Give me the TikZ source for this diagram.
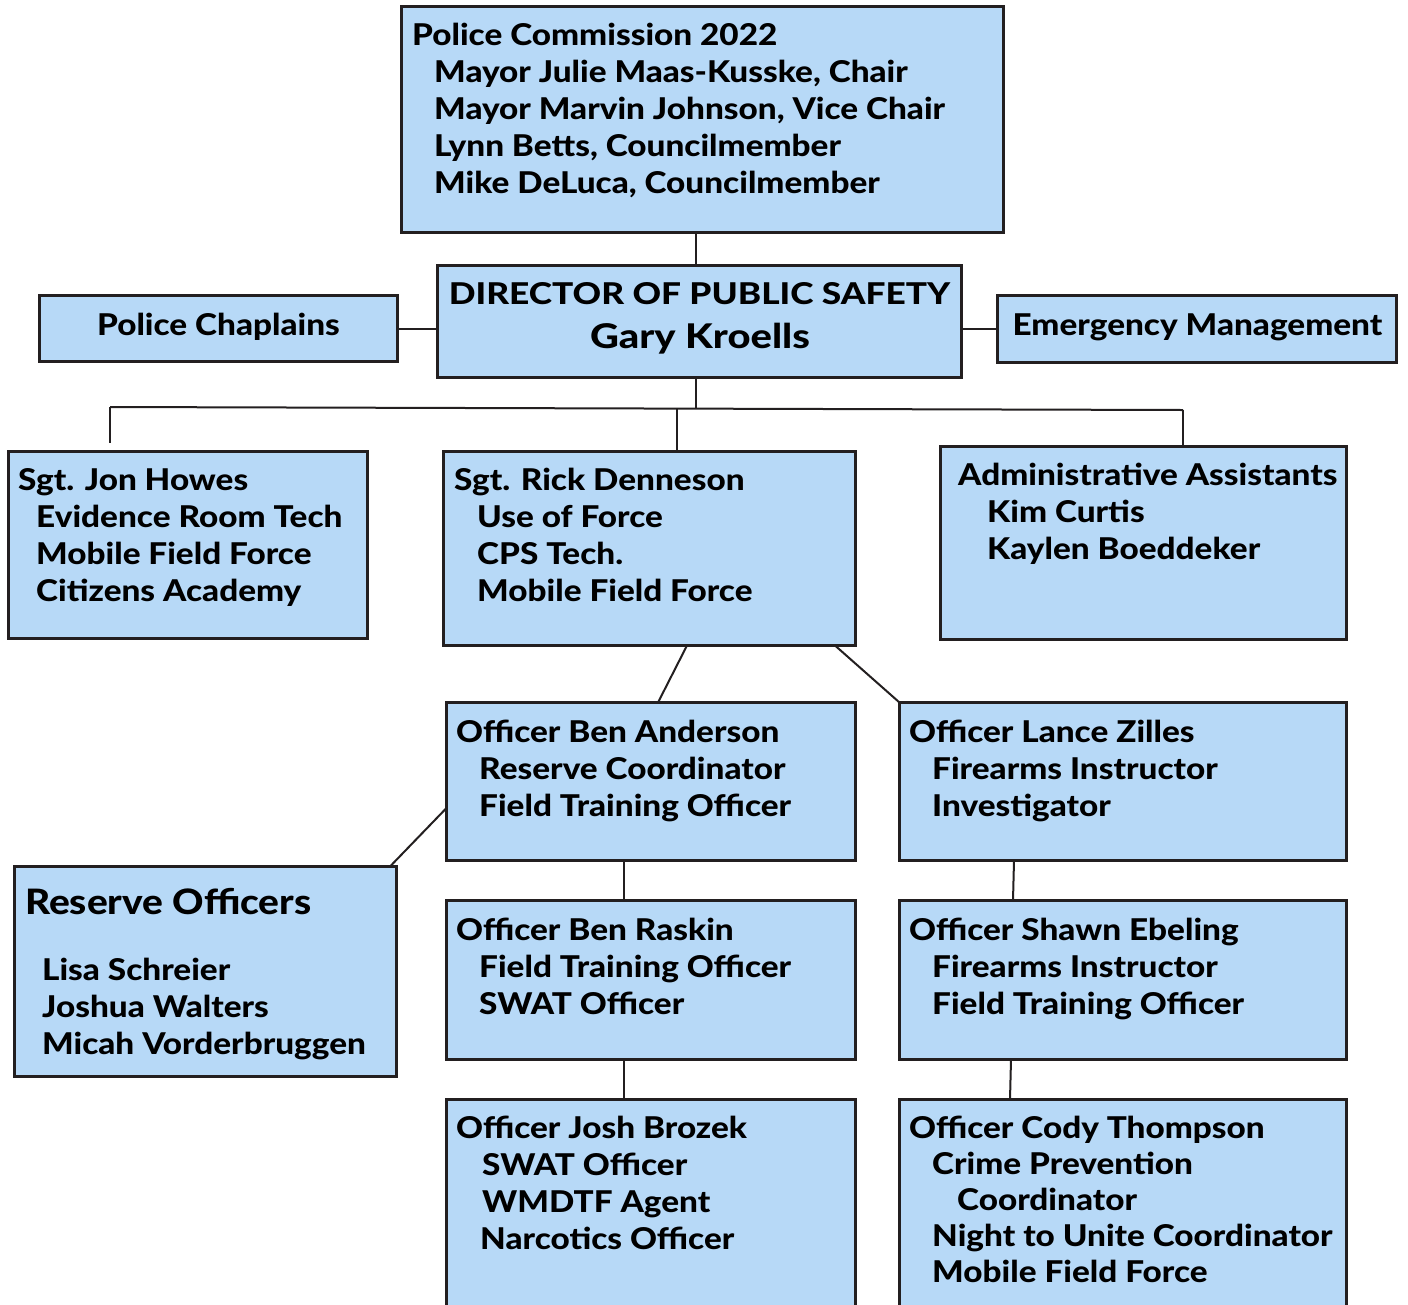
\documentclass[tikz,border=0pt]{standalone}
\usepackage{fontspec}
\setmainfont{Lato}[BoldFont={Lato Heavy}, BoldFeatures={FakeStretch=1.11}]
\newfontfamily\dirfont{Lato Heavy}[FakeStretch=1.175]
\definecolor{boxfill}{RGB}{183,217,247}
\definecolor{boxline}{RGB}{35,31,32}
\newcommand\myind[1]{\hspace*{#1pt}}
\begin{document}
\begin{tikzpicture}[x=1pt,y=-1pt,
 box/.style={draw=boxline, fill=boxfill, line width=3.8pt, rectangle, inner sep=0pt, outer sep=0pt, anchor=north west},
 conn/.style={draw=boxline, line width=2pt},
 txt/.style={font=\fontsize{30}{37}\selectfont\bfseries, align=left, inner sep=0pt, anchor=north west, yshift=25.9pt, text=black},
 bigtxt/.style={font=\fontsize{34}{40}\selectfont\bfseries, inner sep=0pt, anchor=base, text=black},
]
\useasboundingbox (0,0) rectangle (1408,1304);
\clip (0,0) rectangle (1408,1304);
% boxes
\node[box, minimum width=602pt, minimum height=226pt] (comm) at (401.5,6.5) {};
\node[box, minimum width=524pt, minimum height=112pt] (dir) at (437.5,265.5) {};
\node[box, minimum width=358pt, minimum height=66pt] (chap) at (39.5,295.5) {};
\node[box, minimum width=399pt, minimum height=67pt] (emer) at (997.5,295.5) {};
\node[box, minimum width=359pt, minimum height=187pt] (howes) at (8.5,451.5) {};
\node[box, minimum width=412pt, minimum height=194pt] (den) at (443.5,451.5) {};
\node[box, minimum width=406pt, minimum height=193pt] (admin) at (940.5,446.5) {};
\node[box, minimum width=409pt, minimum height=158pt] (and) at (446.5,702.5) {};
\node[box, minimum width=447pt, minimum height=158pt] (zil) at (899.5,702.5) {};
\node[box, minimum width=382pt, minimum height=210pt] (res) at (14.5,866.5) {};
\node[box, minimum width=409pt, minimum height=159pt] (rask) at (446.5,900.5) {};
\node[box, minimum width=447pt, minimum height=159pt] (ebe) at (899.5,900.5) {};
\node[box, minimum width=409pt, minimum height=240pt] (broz) at (446.5,1099.5) {};
\node[box, minimum width=447pt, minimum height=240pt] (thom) at (899.5,1099.5) {};
% connectors
\coordinate (cx) at (696,0);
\coordinate (busM) at (696,408.5);
\coordinate (busL) at (110,407);
\coordinate (busR) at (1183,410);
\coordinate (dropL) at (110,443);
\coordinate (busC) at (677,409);
\draw[conn] (comm.south -| cx) -- (dir.north -| cx);
\draw[conn] (chap.east) -- (chap.east -| dir.west);
\draw[conn] (dir.east |- emer.west) -- (emer.west);
\draw[conn] (dir.south -| cx) -- (busM);
\draw[conn] (busL) -- (busR);
\draw[conn] (busL) -- (dropL);
\draw[conn] (busC) -- (den.north -| busC);
\draw[conn] (busR) -- (admin.north -| busR);
\draw[conn] ([xshift=243.5pt]den.south west) -- ([xshift=211.5pt]and.north west);
\draw[conn] ([xshift=391.5pt]den.south west) -- (zil.north west);
\draw[conn] ([yshift=-105.5pt]and.north west) -- ([xshift=375.5pt]res.north west);
\draw[conn] ([xshift=177.5pt]and.south west) -- ([xshift=177.5pt]rask.north west);
\draw[conn] ([xshift=114.5pt]zil.south west) -- ([xshift=113.5pt]ebe.north west);
\draw[conn] ([xshift=177.5pt]rask.south west) -- ([xshift=177.5pt]broz.north west);
\draw[conn] ([xshift=111.5pt]ebe.south west) -- ([xshift=110.5pt]thom.north west);
% texts
\node[txt] (t-comm) at (412,45) {\strut Police Commission 2022\\\myind{22}Mayor Julie Maas-Kusske, Chair\\\myind{22}Mayor Marvin Johnson, Vice Chair\\\myind{22}Lynn Betts, Councilmember\\\myind{22}Mike DeLuca, Councilmember};
\node[txt, anchor=north, font=\fontsize{30}{37}\selectfont\dirfont] (t-dir1) at (699.5,304) {\strut DIRECTOR OF PUBLIC SAFETY};
\node[bigtxt, font=\fontsize{34}{40}\selectfont\dirfont] (t-dir2) at (700,348) {Gary Kroells};
\node[txt, anchor=north] (t-chap) at (218.5,335) {\strut Police Chaplains};
\node[txt, anchor=north] (t-emer) at (1197.5,335) {\strut Emergency Management};
\node[txt] (t-howes) at (18,490) {\strut Sgt. Jon Howes\\\myind{18}Evidence Room Tech\\\myind{18}Mobile Field Force\\\myind{18}Citizens Academy};
\node[txt] (t-den) at (454,490) {\strut Sgt. Rick Denneson\\\myind{23}Use of Force\\\myind{23}CPS Tech.\\\myind{23}Mobile Field Force};
\node[txt] (t-admin) at (958,485) {\strut Administrative Assistants\\\myind{29}Kim Curtis\\\myind{29}Kaylen Boeddeker};
\node[txt] (t-and) at (456,742) {\strut Officer Ben Anderson\\\myind{23}Reserve Coordinator\\\myind{23}Field Training Officer};
\node[txt] (t-zil) at (909,742) {\strut Officer Lance Zilles\\\myind{23}Firearms Instructor\\\myind{23}Investigator};
\node[bigtxt, anchor=base west, font=\fontsize{35}{40}\selectfont\bfseries] (t-res1) at (25,914) {Reserve Officers};
\node[txt] (t-res2) at (42,980) {\strut Lisa Schreier\\Joshua Walters\\Micah Vorderbruggen};
\node[txt] (t-rask) at (456,940) {\strut Officer Ben Raskin\\\myind{23}Field Training Officer\\\myind{23}SWAT Officer};
\node[txt] (t-ebe) at (909,940) {\strut Officer Shawn Ebeling\\\myind{23}Firearms Instructor\\\myind{23}Field Training Officer};
\node[txt] (t-broz) at (456,1138) {\strut Officer Josh Brozek\\\myind{26}SWAT Officer\\\myind{26}WMDTF Agent\\\myind{24}Narcotics Officer};
\node[txt, font=\fontsize{30}{36}\selectfont\bfseries, yshift=-0.7pt] (t-thom) at (909,1138) {\strut Officer Cody Thompson\\\myind{23}Crime Prevention\\\myind{48}Coordinator\\\myind{23}Night to Unite Coordinator\\\myind{23}Mobile Field Force};
\end{tikzpicture}
\end{document}
